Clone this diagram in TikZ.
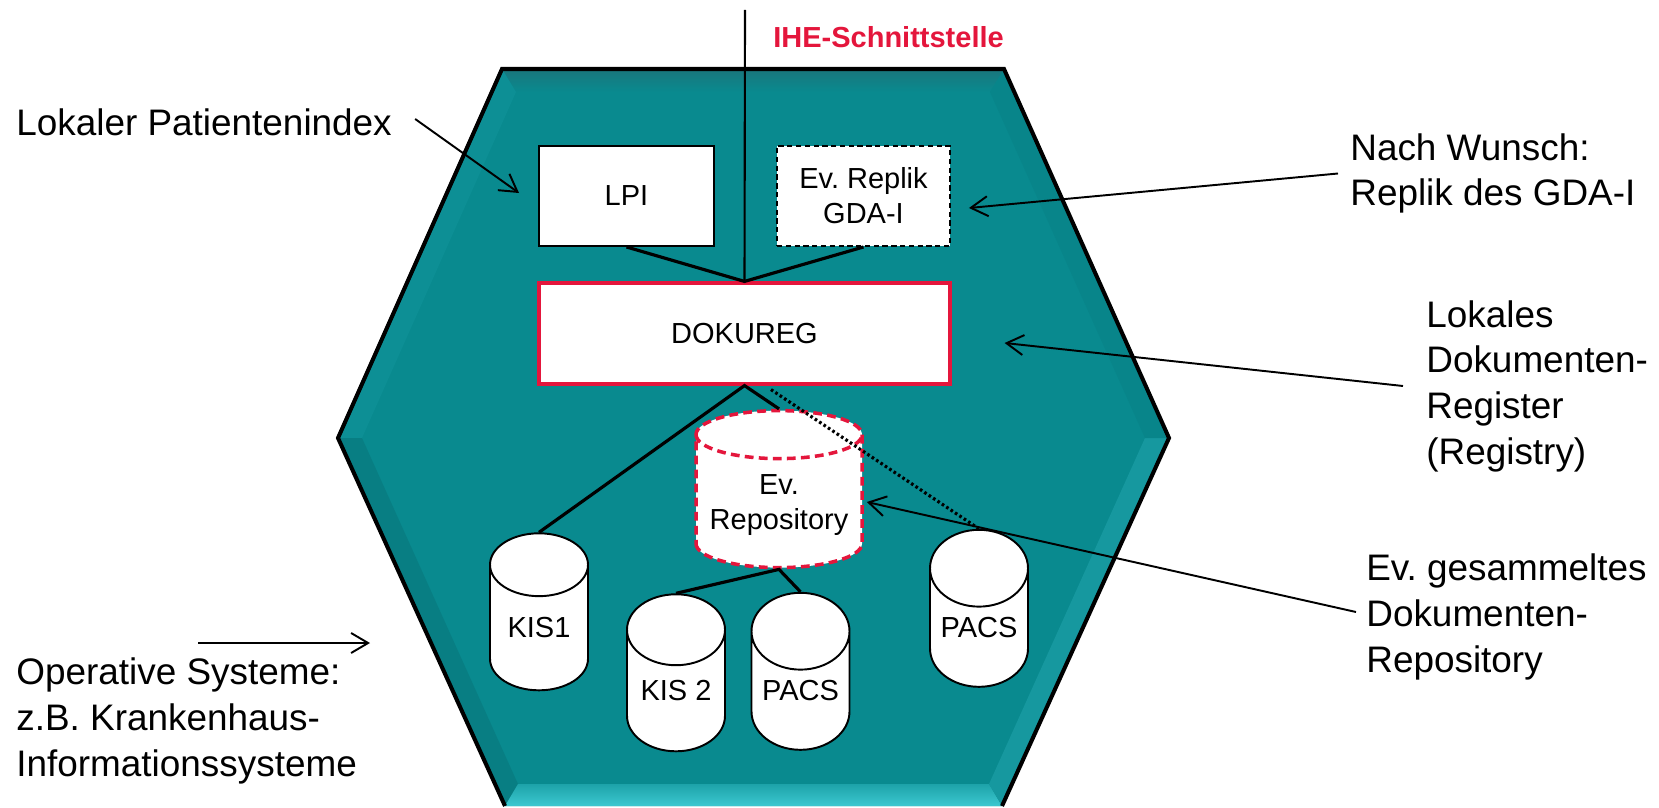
\documentclass[tikz,border=0pt]{standalone}
\usepackage{fontspec}
\setmainfont{Liberation Sans}
\usepackage{tikz}
\usetikzlibrary{arrows.meta,positioning,calc,shapes.geometric}
\frenchspacing
\definecolor{hexteal}{RGB}{9,138,143}
\definecolor{hexdark}{RGB}{26,118,124}
\definecolor{hexlight}{RGB}{60,200,208}
\definecolor{hexupl}{RGB}{13,143,149}
\definecolor{hexlowl}{RGB}{8,126,131}
\definecolor{hexlowr}{RGB}{22,152,159}
\definecolor{hexupr}{RGB}{8,133,138}
\definecolor{iheRed}{RGB}{228,22,60}
\tikzset{
  boxtext/.style={font=\fontsize{16.5}{20}\selectfont,align=center},
  plainbox/.style={boxtext,draw,fill=white,line width=1.1pt,inner sep=0pt},
  db/.style={boxtext,cylinder,shape border rotate=90,draw,fill=white,
    line width=1.1pt,minimum width=19.6mm,minimum height=31.4mm,aspect=1.0,
    inner sep=0pt},
  link/.style={line width=1.8pt},
  lbl/.style={font=\fontsize{21}{26}\selectfont,align=left,inner sep=0pt,
    anchor=west},
  lblarrow/.style={line width=1.1pt,-{Straight Barb[length=3.4mm,width=4mm]}},
}
\begin{document}
\begin{tikzpicture}[x=0.2mm,y=-0.2mm]
\useasboundingbox (0,0) rectangle (1659,808);
% hexagon with bevel
\fill[hexteal] (502,69) -- (1004,69) -- (1169,438) -- (1002,806) -- (505,806)
  -- (338,438) -- cycle;
\shade[top color=hexdark,bottom color=hexteal] (502,69) -- (1004,69) -- (990,92)
  -- (516,92) -- cycle;
\fill[hexupl] (338,438) -- (502,69) -- (516,92) -- (362,438) -- cycle;
\fill[hexlowl] (338,438) -- (362,438) -- (518,784) -- (505,806) -- cycle;
\shade[top color=hexteal!60!hexlight,bottom color=hexlight] (505,806)
  -- (518,784) -- (989,784) -- (1002,806) -- cycle;
\fill[hexlowr] (1002,806) -- (989,784) -- (1145,438) -- (1169,438) -- cycle;
\fill[hexupr] (1169,438) -- (1145,438) -- (990,92) -- (1004,69) -- cycle;
\draw[line width=2.3pt] (505,806) -- (338,438) -- (502,69) -- (1004,69)
  -- (1169,438) -- (1002,806);
% interface
\coordinate (iheTop) at (745,10);
\node[font=\bfseries\fontsize{16.5}{20}\selectfont,text=iheRed,anchor=west,
  inner sep=0pt] (ihe) at (773,37) {IHE-Schnittstelle};
% boxes
\node[plainbox,minimum width=35mm,minimum height=20mm] (lpi) at (626.5,196) {LPI};
\node[plainbox,dashed,dash pattern=on 3pt off 2pt,minimum width=34.6mm,
  minimum height=20mm] (evr) at (863.5,196) {Ev. Replik\\GDA-I};
\node[plainbox,draw=iheRed,line width=1.8pt,minimum width=82.2mm,
  minimum height=20.2mm] (dokureg) at (744.5,333.5) {DOKUREG};
% data stores
\node[db,draw=iheRed,line width=2pt,dash pattern=on 5pt off 3pt,
  minimum width=33.2mm,aspect=0.6] (repo) at (779,502)
  {\rule{0pt}{11.8pt}\makebox[16mm]{\smash{\begin{tabular}{@{}c@{}}Ev.\\
  Repository\end{tabular}}}};
\node[db] (kis1) at (539,628) {KIS1};
\node[db] (kis2) at (676,691) {KIS 2};
\node[db] (pacsm) at (800.5,691) {PACS};
\node[db] (pacsr) at (979,628) {PACS};
% connectors
\draw[line width=1.2pt] (iheTop) -- (dokureg.north);
\draw[link] (lpi.south) -- (dokureg.north) -- (evr.south);
\draw[link] (kis1.top) -- (dokureg.south) -- (repo.top);
\draw[link,dash pattern=on 1.5pt off 1.5pt]
  ([xshift=5.3mm,yshift=-0.8mm]dokureg.south) -- (pacsr.top);
\draw[link] (kis2.top) -- (repo.bottom) -- (pacsm.top);
% labels
\node[lbl] (lbllpi) at (16,122) {Lokaler Patientenindex};
\node[lbl] (lblgda) at (1350,173.5) {Nach Wunsch:\\Replik des GDA-I};
\node[lbl] (lblreg) at (1426,386) {Lokales\\Dokumenten-\\Register\\(Registry)};
\node[lbl] (lblrep) at (1366,617) {Ev. gesammeltes\\Dokumenten-\\Repository};
\node[lbl] (lblops) at (16,721) {Operative Systeme:\\z.B. Krankenhaus-\\Informationssysteme};
\coordinate (opsA) at (198,643);
\coordinate (opsB) at (370,643);
\draw[lblarrow] ([xshift=4.6mm,yshift=0.6mm]lbllpi.east)
  -- ([xshift=-3.8mm,yshift=0.6mm]lpi.west);
\draw[lblarrow] ([xshift=-2.4mm]lblgda.west)
  -- ([xshift=3.6mm,yshift=-2.4mm]evr.east);
\draw[lblarrow] ([xshift=-4.6mm]lblreg.west)
  -- ([xshift=10.6mm,yshift=-1.9mm]dokureg.east);
\draw[lblarrow] ([xshift=-2mm,yshift=1mm]lblrep.west)
  -- ([xshift=0.6mm]repo.east);
\draw[lblarrow] (opsA) -- (opsB);
\end{tikzpicture}
\end{document}
